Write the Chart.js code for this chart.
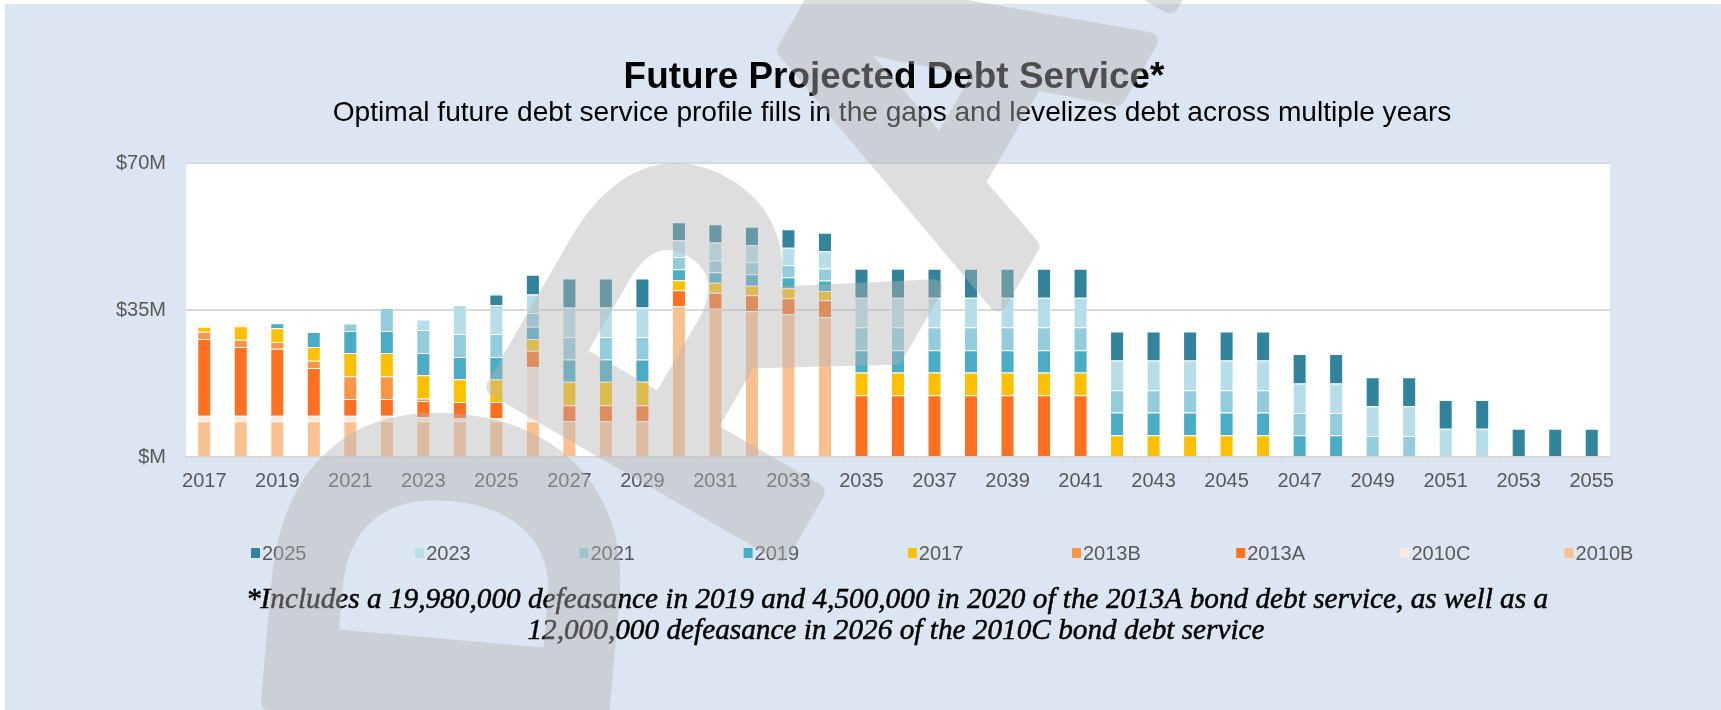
<!DOCTYPE html>
<html>
<head>
<meta charset="utf-8">
<script src="https://cdn.jsdelivr.net/npm/chart.js@4.4.1/dist/chart.umd.min.js"></script>
<style>
html,body{margin:0;padding:0;background:#dce6f2;overflow:hidden}
canvas{display:block}
</style>
</head>
<body>
<canvas id="c" width="1721" height="710"></canvas>
<script>
// ---------- DATA ----------
const categories = ['2017','2018','2019','2020','2021','2022','2023','2024','2025','2026',
  '2027','2028','2029','2030','2031','2032','2033','2034','2035','2036',
  '2037','2038','2039','2040','2041','2042','2043','2044','2045','2046',
  '2047','2048','2049','2050','2051','2052','2053','2054','2055'];

const yTickValues = [0, 35, 70];

// values in $ millions, stacked bottom -> top
const s2010B = [8.5,8.5,8.5,8.5,8.5,8.5,8.5,8.5,8.5,8.5,8.5,8.5,8.5,35.9,35.3,34.7,34.0,33.3,
  null,null,null,null,null,null,null,null,null,null,null,null,null,null,null,null,null,null,null,null,null];
const s2010C = [1.3,1.3,1.3,1.3,1.3,1.3,0.95,0.7,0.7,12.9,
  null,null,null,null,null,null,null,null,null,null,null,null,null,null,null,null,null,null,null,null,null,null,null,null,null,null,null,null,null];
const s2013A = [18.3,16.4,16.0,11.4,4.0,4.0,3.9,3.9,3.9,3.9,3.8,3.8,3.8,3.8,3.8,3.8,3.8,4.0,
  14.7,14.7,14.7,14.7,14.7,14.7,14.7,
  null,null,null,null,null,null,null,null,null,null,null,null,null,null];
const s2013B = [1.7,1.7,1.6,1.7,5.4,5.4,0.6,
  null,null,null,null,null,null,null,null,null,null,null,null,null,null,null,null,null,null,null,null,null,null,null,null,null,null,null,null,null,null,null,null];
const s2017 = [1.2,3.25,3.25,3.3,5.55,5.55,5.5,5.4,5.4,2.8,5.6,5.6,5.6,2.4,2.4,2.3,2.4,2.2,
  5.4,5.4,5.4,5.4,5.4,5.4,5.4,
  5.2,5.2,5.2,5.2,5.2,
  null,null,null,null,null,null,null,null,null];
const s2019 = [null,null,1.2,3.55,5.25,5.25,5.3,5.3,5.3,2.9,5.3,5.3,5.3,2.6,2.5,2.7,2.6,2.5,
  5.3,5.3,5.3,5.3,5.3,5.3,5.3,
  5.4,5.4,5.4,5.4,5.4,
  5.2,5.2,
  null,null,null,null,null,null,null];
const s2021 = [null,null,null,null,1.8,5.5,5.5,5.5,5.5,3.3,5.4,5.4,5.4,2.9,2.8,2.9,2.9,2.9,
  5.5,5.5,5.5,5.5,5.5,5.5,5.5,
  5.3,5.3,5.3,5.3,5.3,
  5.3,5.3,
  5.0,5.0,
  null,null,null,null,null];
const s2023 = [null,null,null,null,null,null,2.5,6.9,6.9,4.4,7.0,7.0,7.0,4.0,4.3,4.1,4.1,4.1,
  7.0,7.0,7.0,7.0,7.0,7.0,7.0,
  7.1,7.1,7.1,7.1,7.1,
  7.0,7.0,
  7.1,7.1,
  6.7,6.7,
  null,null,null];
const s2025 = [null,null,null,null,null,null,null,null,2.5,4.7,6.9,6.9,6.9,4.3,4.3,4.3,4.4,4.4,
  6.9,6.9,6.9,6.9,6.9,6.9,6.9,
  6.9,6.9,6.9,6.9,6.9,
  7.0,7.0,
  6.9,6.9,
  6.9,6.9,
  6.7,6.7,6.7];

const seriesLabels = ['2010B','2010C','2013A','2013B','2017','2019','2021','2023','2025'];
const seriesData   = [s2010B, s2010C, s2013A, s2013B, s2017, s2019, s2021, s2023, s2025];
const seriesColors = ['#fac090','#fde9d9','#ff7020','#f79646','#ffc000','#4bacc6','#93cddd','#b7dee8','#31849b'];

const titleText = 'Future Projected Debt Service*';
const subtitleText = 'Optimal future debt service profile fills in the gaps and levelizes debt across multiple years';
const footnoteLines = [
  '*Includes a 19,980,000 defeasance in 2019 and 4,500,000 in 2020 of the 2013A bond debt service, as well as a',
  '12,000,000 defeasance in 2026 of the 2010C bond debt service'
];
const watermarkText = 'DRAFT';

// ---------- DRAWING ----------
const W = 1721, H = 710;
const SANS = '"Liberation Sans", Arial, Helvetica, sans-serif';
const SERIF = '"Liberation Serif", "Times New Roman", serif';

// watermark letter placement (curved WordArt): centre x, centre y, rotation (deg), size
const wmLayout = [
  [440, 575, 85, 480],
  [703, 344, 60, 480],
  [934, 91, 60, 450],
  [1084, -169, 60, 450],
  [1221, -407, 60, 450]
];

function fitFont(ctx, text, width, style, family) {
  ctx.font = style + ' 100px ' + family;
  const w = ctx.measureText(text).width;
  return 100 * width / w;
}

const deco = {
  id: 'deco',
  beforeDraw(chart) {
    const ctx = chart.ctx, a = chart.chartArea;
    ctx.save();
    ctx.fillStyle = '#ffffff';
    ctx.fillRect(0, 0, W, H);
    ctx.fillStyle = '#dce6f2';
    ctx.fillRect(5, 4, W - 5, H - 4);
    ctx.fillStyle = '#ffffff';
    ctx.fillRect(a.left, a.top, a.right - a.left, a.bottom - a.top);
    ctx.restore();
  },
  afterDraw(chart) {
    const ctx = chart.ctx;
    ctx.save();
    ctx.textAlign = 'center';
    ctx.textBaseline = 'alphabetic';
    ctx.fillStyle = '#000000';
    // title
    let sz = fitFont(ctx, titleText, 541, 'bold', SANS);
    ctx.font = 'bold ' + sz + 'px ' + SANS;
    ctx.fillText(titleText, 894, 88);
    // subtitle
    sz = fitFont(ctx, subtitleText, 1119, '', SANS);
    ctx.font = sz + 'px ' + SANS;
    ctx.fillText(subtitleText, 892, 121);
    // legend (reverse of stacking order)
    ctx.font = '20px ' + SANS;
    ctx.textAlign = 'left';
    ctx.textBaseline = 'middle';
    const n = seriesLabels.length;
    for (let k = 0; k < n; k++) {
      const idx = n - 1 - k;
      const x = 251 + k * 164.2;
      ctx.fillStyle = seriesColors[idx];
      ctx.fillRect(x, 548, 9, 10);
      ctx.fillStyle = '#595959';
      ctx.fillText(seriesLabels[idx], x + 11, 554);
    }
    // footnote
    ctx.textAlign = 'center';
    ctx.textBaseline = 'alphabetic';
    ctx.fillStyle = '#000000';
    ctx.strokeStyle = '#000000';
    ctx.lineWidth = 0.5;
    sz = fitFont(ctx, footnoteLines[0], 1303, 'italic', SERIF);
    ctx.font = 'italic ' + sz + 'px ' + SERIF;
    ctx.fillText(footnoteLines[0], 897, 608);
    ctx.strokeText(footnoteLines[0], 897, 608);
    ctx.fillText(footnoteLines[1], 896, 639);
    ctx.strokeText(footnoteLines[1], 896, 639);
    ctx.restore();

    // watermark
    const off = document.createElement('canvas');
    off.width = W; off.height = H;
    const o = off.getContext('2d');
    o.fillStyle = 'rgb(181,181,181)';
    o.strokeStyle = 'rgb(181,181,181)';
    o.lineJoin = 'round';
    o.lineWidth = 18;
    o.textAlign = 'center';
    o.textBaseline = 'alphabetic';
    for (let i = 0; i < watermarkText.length; i++) {
      const [cx, cy, ang, size] = wmLayout[i];
      o.save();
      o.translate(cx, cy);
      o.rotate(-ang * Math.PI / 180);
      o.font = 'bold ' + size + 'px ' + SANS;
      o.fillText(watermarkText[i], 0, 0.358 * size);
      o.strokeText(watermarkText[i], 0, 0.358 * size);
      o.restore();
    }
    ctx.save();
    ctx.globalAlpha = 0.43;
    ctx.drawImage(off, 0, 0);
    ctx.restore();
  }
};

new Chart(document.getElementById('c'), {
  type: 'bar',
  data: {
    labels: categories,
    datasets: seriesLabels.map((l, i) => ({
      label: l,
      data: seriesData[i],
      backgroundColor: seriesColors[i],
      borderColor: 'rgba(255,255,255,0.45)',
      borderWidth: 1,
      barPercentage: 0.384,
      categoryPercentage: 1,
      stack: 's'
    }))
  },
  options: {
    responsive: false,
    animation: false,
    devicePixelRatio: 1,
    layout: { padding: { left: 0, top: 163, right: 111, bottom: 0 } },
    plugins: { legend: { display: false }, title: { display: false }, tooltip: { enabled: false } },
    scales: {
      x: {
        stacked: true,
        grid: {
          drawOnChartArea: false,
          drawTicks: true,
          tickLength: 6,
          lineWidth: 1,
          color: (c) => (c.index !== undefined && c.index % 2 === 0) ? '#d9d9d9' : 'rgba(0,0,0,0)'
        },
        border: { display: true, color: '#d9d9d9', width: 2 },
        ticks: {
          autoSkip: false,
          maxRotation: 0,
          minRotation: 0,
          padding: 6,
          color: '#595959',
          font: { family: SANS, size: 20 },
          callback: (v, i) => (i % 2 === 0 ? categories[i] : '')
        },
        afterFit: (s) => { s.height = 710 - 457; }
      },
      y: {
        stacked: true,
        min: yTickValues[0],
        max: yTickValues[yTickValues.length - 1],
        afterBuildTicks: (s) => { s.ticks = yTickValues.map(v => ({ value: v })); },
        grid: { color: '#d9d9d9', lineWidth: 2, drawTicks: false },
        border: { display: false },
        ticks: {
          padding: 20,
          color: '#595959',
          font: { family: SANS, size: 20 },
          callback: (v) => (v === 0 ? '$M' : '$' + v + 'M')
        },
        afterFit: (s) => { s.width = 186; }
      }
    }
  },
  plugins: [deco]
});
</script>
</body>
</html>
